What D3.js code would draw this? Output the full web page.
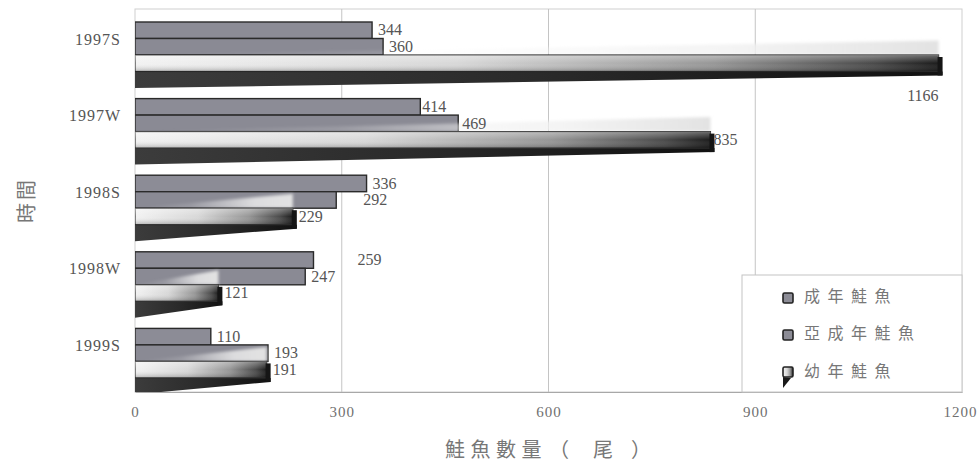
<!DOCTYPE html>
<html>
<head>
<meta charset="utf-8">
<script src="https://cdn.jsdelivr.net/npm/d3@7"></script>
<style>
  html, body { margin: 0; padding: 0; background: #fff; }
  svg { display: block; }
</style>
</head>
<body>
<svg id="chart" width="979" height="468"></svg>
<script>
// Salmon counts per survey period
const periods = ["1997S", "1997W", "1998S", "1998W", "1999S"];
const seriesNames = ["成年鮭魚", "亞成年鮭魚", "幼年鮭魚"];
const adult = [344, 414, 336, 259, 110];
const subadult = [360, 469, 292, 247, 193];
const juvenile = [1166, 835, 229, 121, 191];
const xTicks = [0, 300, 600, 900, 1200];
const xTitle = "鮭魚數量";
const yTitle = "時間";

const svg = d3.select("#chart");
const defs = svg.append("defs");

const plotLeft = 135, plotRight = 962, plotTop = 9, plotBottom = 392;

const x = d3.scaleLinear().domain([0, 1200]).range([plotLeft, plotRight]);
const y = d3.scaleBand().domain(periods).range([plotTop, plotBottom]);
const lane = d3.scaleBand().domain(["adult", "subadult", "juvenile", "shade"]).range([13, 79]);
const lh = lane.bandwidth();

// gradients
const g3 = defs.append("linearGradient").attr("id", "juvFill").attr("x1", 0).attr("x2", 1).attr("y1", 0).attr("y2", 0);
[[0, "#f2f2f2"], [0.4, "#d8d8d8"], [0.72, "#979797"], [0.92, "#4a4a4a"], [1, "#1c1c1c"]]
  .forEach(([o, c]) => g3.append("stop").attr("offset", o).attr("stop-color", c));

const gv = defs.append("linearGradient").attr("id", "juvShade").attr("x1", 0).attr("x2", 0).attr("y1", 0).attr("y2", 1);
[[0, "#ffffff", 0.35], [0.5, "#ffffff", 0], [1, "#000000", 0.25]]
  .forEach(([o, c, a]) => gv.append("stop").attr("offset", o).attr("stop-color", c).attr("stop-opacity", a));

const gs = defs.append("linearGradient").attr("id", "shadowFill").attr("x1", 0).attr("x2", 1).attr("y1", 0).attr("y2", 0);
[[0, "#3c3c3c"], [0.5, "#2a2a2a"], [1, "#111111"]]
  .forEach(([o, c]) => gs.append("stop").attr("offset", o).attr("stop-color", c));

const gw = defs.append("linearGradient").attr("id", "glowFill").attr("x1", 0).attr("x2", 1).attr("y1", 0).attr("y2", 0);
[[0, "#ffffff", 0], [0.35, "#f6f6f6", 0.15], [0.75, "#f0f0f0", 0.8], [1, "#e2e2e2", 1]]
  .forEach(([o, c, a]) => gw.append("stop").attr("offset", o).attr("stop-color", c).attr("stop-opacity", a));

defs.append("filter").attr("id", "soft").attr("x", "-5%").attr("y", "-60%").attr("width", "110%").attr("height", "220%")
  .append("feGaussianBlur").attr("stdDeviation", 1.8);

defs.append("clipPath").attr("id", "plotClip")
  .append("rect").attr("x", plotLeft).attr("y", plotTop).attr("width", plotRight - plotLeft + 10).attr("height", plotBottom - plotTop);

// plot frame and grid
svg.append("rect").attr("x", plotLeft).attr("y", plotTop).attr("width", plotRight - plotLeft).attr("height", plotBottom - plotTop)
  .attr("fill", "none").attr("stroke", "#cfcfcf").attr("stroke-width", 1);
svg.append("g").selectAll("line").data(xTicks.slice(1, -1)).join("line")
  .attr("x1", d => x(d)).attr("x2", d => x(d)).attr("y1", plotTop).attr("y2", plotBottom)
  .attr("stroke", "#c4c4c4").attr("stroke-width", 1);

// bars
const plot = svg.append("g").attr("clip-path", "url(#plotClip)");
const rows = periods.map((p, i) => ({ p, a: adult[i], s: subadult[i], j: juvenile[i] }));

rows.forEach(r => {
  const g = plot.append("g").attr("transform", `translate(0,${y(r.p)})`);
  const x0 = x(0);
  const ya = lane("adult"), ys = lane("subadult"), yj = lane("juvenile"), yd = lane("shade");

  g.append("rect").attr("x", x0).attr("y", ya).attr("width", x(r.a) - x0).attr("height", lh)
    .attr("fill", "#8c8c96").attr("stroke", "#2a2a2a").attr("stroke-width", 1.4);
  g.append("rect").attr("x", x0).attr("y", ys).attr("width", x(r.s) - x0).attr("height", lh)
    .attr("fill", "#8a8a94").attr("stroke", "#2a2a2a").attr("stroke-width", 1.4);

  const xj = x(r.j);
  // upper face of the juvenile bar
  g.append("path")
    .attr("d", `M${x0 + 1},${ys + lh} L${xj},${ys + 2} L${xj},${ys + lh} Z`)
    .attr("fill", "url(#glowFill)").attr("filter", "url(#soft)");
  // lower (shaded) face
  g.append("path")
    .attr("d", `M${x0},${yd} L${xj + 4},${yd} L${xj + 4},${yd + 4} L${x0},${yd + lh} Z`)
    .attr("fill", "url(#shadowFill)");
  g.append("rect").attr("x", x0).attr("y", yj).attr("width", xj - x0).attr("height", lh)
    .attr("fill", "url(#juvFill)").attr("stroke", "#2e2e2e").attr("stroke-width", 1.2);
  g.append("rect").attr("x", x0).attr("y", yj).attr("width", xj - x0).attr("height", lh)
    .attr("fill", "url(#juvShade)");
  // end cap
  g.append("rect").attr("x", xj - 1).attr("y", yj + 2).attr("width", 5).attr("height", lh + 2)
    .attr("fill", "#151515");
});

// value labels
const labelFont = "'Liberation Serif', 'DejaVu Serif', serif";
const nudge = { "1997W|subadult": -2, "1997W|adult": -4, "1997W|juvenile": -3, "1998S|subadult": 21, "1998W|adult": 38 };
const labels = svg.append("g").attr("font-family", labelFont).attr("font-size", 16).attr("fill", "#555");
rows.forEach(r => {
  [["adult", r.a], ["subadult", r.s], ["juvenile", r.j]].forEach(([k, v]) => {
    const t = labels.append("text").text(v).attr("dominant-baseline", "middle");
    if (r.p === "1997S" && k === "juvenile") {
      t.attr("x", x(v)).attr("y", y(r.p) + lane("shade") + lh + 9).attr("text-anchor", "end");
    } else {
      t.attr("x", x(v) + 6 + (nudge[r.p + "|" + k] || 0)).attr("y", y(r.p) + lane(k) + lh / 2 + 1.5);
    }
  });
});

// axes
const xAxis = svg.append("g").attr("transform", `translate(0,${plotBottom})`)
  .call(d3.axisBottom(x).tickValues(xTicks).tickFormat(d3.format("d")).tickSize(0).tickPadding(14));
xAxis.select(".domain").attr("stroke", "#a8a8a8").attr("stroke-width", 1.2);
xAxis.selectAll("text").attr("font-family", labelFont).attr("font-size", 15)
  .attr("letter-spacing", 1).attr("fill", "#707070");
xAxis.selectAll(".tick").filter(d => d === 1200).select("text").attr("dx", -2);

const yAxis = svg.append("g").attr("transform", `translate(${plotLeft - 14},0)`)
  .call(d3.axisLeft(y).tickSize(0).tickPadding(0));
yAxis.select(".domain").remove();
yAxis.selectAll("text").attr("font-family", labelFont).attr("font-size", 16)
  .attr("letter-spacing", 1).attr("fill", "#555").attr("dy", "0.05em")
  .attr("transform", "translate(0,-3.5)");

// axis titles
const cjk = "'Noto Sans CJK TC', 'Noto Sans CJK SC', sans-serif";
const xt = svg.append("text").attr("y", 452).attr("font-family", cjk).attr("font-size", 20)
  .attr("fill", "#777").attr("dominant-baseline", "middle");
xt.append("tspan").attr("x", 445).attr("letter-spacing", 5.5).text(xTitle);
xt.append("tspan").attr("x", 549).text("（");
xt.append("tspan").attr("x", 593).text("尾");
xt.append("tspan").attr("x", 631).text("）");

svg.append("text").attr("transform", "translate(29,200) rotate(-90)")
  .attr("text-anchor", "middle").attr("dominant-baseline", "middle")
  .attr("font-family", cjk).attr("font-size", 20).attr("letter-spacing", 3)
  .attr("fill", "#777").text(yTitle);

// legend
const lg = svg.append("g");
lg.append("rect").attr("x", 742).attr("y", 275).attr("width", 220).attr("height", 117)
  .attr("fill", "#fff").attr("stroke", "#c4c4c4").attr("stroke-width", 1);
const legendY = [298, 335, 373];
seriesNames.forEach((name, i) => {
  const cy = legendY[i];
  if (i < 2) {
    lg.append("rect").attr("x", 783).attr("y", cy - 5).attr("width", 10).attr("height", 10).attr("rx", 1.5)
      .attr("fill", "#8c8c96").attr("stroke", "#222").attr("stroke-width", 1.6);
  } else {
    lg.append("path").attr("d", `M783,${cy + 4} L783,${cy + 15} L791,${cy + 5} Z`).attr("fill", "#1a1a1a");
    lg.append("rect").attr("x", 783).attr("y", cy - 6).attr("width", 10).attr("height", 10).attr("rx", 1.5)
      .attr("fill", "url(#juvFill)").attr("stroke", "#222").attr("stroke-width", 1.6);
  }
  lg.append("text").attr("x", 804).attr("y", cy).attr("dominant-baseline", "middle")
    .attr("font-family", cjk).attr("font-size", 16).attr("letter-spacing", 7.5)
    .attr("fill", "#777").text(name);
});
</script>
</body>
</html>
